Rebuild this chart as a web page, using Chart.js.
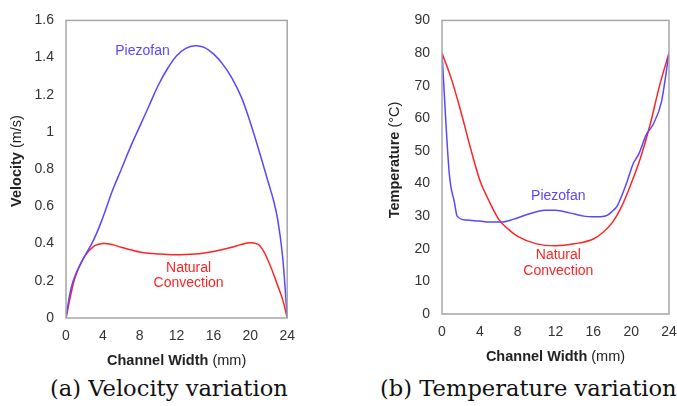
<!DOCTYPE html>
<html>
<head>
<meta charset="utf-8">
<script src="https://cdn.jsdelivr.net/npm/chart.js@4.4.1/dist/chart.umd.min.js"></script>
<style>
  html, body { margin: 0; padding: 0; background: #fff; overflow: hidden; }
  body { width: 677px; height: 406px; position: relative; }
  .box { position: absolute; top: 0; height: 370px; }
  .cap { position: absolute; top: 377px; line-height: 1; font-family: "DejaVu Serif", serif; font-size: 22.6px; color: #111; white-space: nowrap; }
</style>
</head>
<body>
<div class="box" style="left:0;width:305px"><canvas id="velChart"></canvas></div>
<div class="box" style="left:380px;width:320px"><canvas id="tempChart"></canvas></div>
<div class="cap" style="left:50px">(a) Velocity variation</div>
<div class="cap" style="left:380px">(b) Temperature variation</div>
<script>
// channel width ticks (mm)
let widthTicks = [0, 4, 8, 12, 16, 20, 24]

// (a) velocity, m/s
let velPiezoX = [0, 0.5, 1, 2, 3, 4, 5, 6, 7, 8, 9, 10, 11, 12, 13, 14, 15, 16, 17, 18, 19, 20, 21, 22, 22.5, 23, 23.5, 24]
let velPiezoY = [0, 0.15, 0.23, 0.33, 0.42, 0.54, 0.68, 0.8, 0.92, 1.03, 1.14, 1.25, 1.34, 1.41, 1.45, 1.464, 1.455, 1.42, 1.365, 1.29, 1.19, 1.05, 0.89, 0.72, 0.635, 0.52, 0.33, 0]
let velNatX = [0, 0.5, 1, 2, 3, 4, 5, 6, 7, 8, 9, 10, 11, 12, 13, 14, 15, 16, 17, 18, 19, 20, 21, 22, 23, 23.5, 24]
let velNatY = [0, 0.12, 0.22, 0.33, 0.385, 0.4, 0.395, 0.38, 0.367, 0.355, 0.348, 0.344, 0.341, 0.34, 0.341, 0.344, 0.35, 0.358, 0.368, 0.38, 0.395, 0.405, 0.39, 0.3, 0.17, 0.1, 0]

// (b) temperature, deg C
let tempPiezoX = [0, 0.77, 1.33, 1.6, 2.6, 4, 5, 6.3, 7.5, 9, 10.9, 12, 13.5, 15, 15.8, 17, 17.5, 18, 18.5, 19.5, 20.2, 20.8, 21.6, 22.3, 23.2, 24]
let tempPiezoY = [80, 43, 34, 30, 28.8, 28.5, 28.2, 28.2, 29, 30.5, 31.8, 31.8, 31, 30, 29.8, 29.9, 30.3, 31.5, 33, 40, 46, 49, 55, 58, 65, 80]
let tempNatX = [0, 1, 2, 3, 4, 5, 6, 7, 8, 10, 12, 14, 16, 17, 18, 19, 20, 21, 22, 23, 24]
let tempNatY = [80, 72, 62, 51, 41, 34.5, 29, 26, 23.8, 21.5, 20.9, 21.5, 23, 25, 28, 33, 40, 48, 58, 70, 80]

let velTicks = [0, 0.2, 0.4, 0.6, 0.8, 1, 1.2, 1.4, 1.6]
let tempTicks = [0, 10, 20, 30, 40, 50, 60, 70, 80, 90]

const blue = "#5a46ff"
const red = "#ff2424"
const tickFont = { family: "Liberation Sans", size: 14 }

function toPoints(xs, ys){
    return xs.map((x, i) => ({ x: x, y: ys[i] }))
}

// frame, axis titles (bold part + plain part) and curve labels
function decor(cfg){
    return {
        id: "decor",
        afterDraw(chart){
            const ctx = chart.ctx
            const a = chart.chartArea
            const xs = chart.scales.x, ys = chart.scales.y
            ctx.save()
            ctx.strokeStyle = "#a6a6a6"
            ctx.lineWidth = 1.5
            ctx.strokeRect(a.left, a.top, a.right - a.left, a.bottom - a.top)

            // x title
            ctx.fillStyle = "#222"
            ctx.textBaseline = "middle"
            let bold = "bold 14.5px Liberation Sans", plain = "14.5px Liberation Sans"
            ctx.font = bold
            let w1 = ctx.measureText("Channel Width ").width
            ctx.font = plain
            let w2 = ctx.measureText("(mm)").width
            let cx = (a.left + a.right) / 2 - (w1 + w2) / 2
            ctx.textAlign = "left"
            ctx.font = bold
            ctx.fillText("Channel Width ", cx, cfg.xTitleY)
            ctx.font = plain
            ctx.fillText("(mm)", cx + w1, cfg.xTitleY)

            // y title, rotated
            ctx.save()
            ctx.translate(cfg.yTitleX, cfg.yTitleY)
            ctx.rotate(-Math.PI / 2)
            ctx.font = bold
            w1 = ctx.measureText(cfg.yBold + " ").width
            ctx.font = plain
            w2 = ctx.measureText(cfg.yPlain).width
            ctx.font = bold
            ctx.fillText(cfg.yBold + " ", -(w1 + w2) / 2, 0)
            ctx.font = plain
            ctx.fillText(cfg.yPlain, -(w1 + w2) / 2 + w1, 0)
            ctx.restore()

            // curve labels
            ctx.font = "14px Liberation Sans"
            ctx.textAlign = "center"
            cfg.labels.forEach(l => {
                ctx.fillStyle = l.color
                ctx.fillText(l.text, xs.getPixelForValue(l.x), ys.getPixelForValue(l.y))
            })
            ctx.restore()
        }
    }
}

function lineStyle(color, smooth){
    if (smooth) return { borderColor: color, borderWidth: 1.5, pointRadius: 0, tension: 0.4 }
    return { borderColor: color, borderWidth: 1.5, pointRadius: 0, cubicInterpolationMode: "monotone" }
}

function makeChart(id, opts){
    return new Chart(id, {
        type: "line",
        data: {
            datasets: [
                Object.assign({ data: toPoints(opts.piezoX, opts.piezoY) }, lineStyle(blue, opts.smooth)),
                Object.assign({ data: toPoints(opts.natX, opts.natY) }, lineStyle(red, opts.smooth))
            ]
        },
        options: {
            responsive: false,
            animation: false,
            events: [],
            layout: { padding: opts.padding },
            plugins: { legend: { display: false }, tooltip: { enabled: false } },
            scales: {
                x: {
                    type: "linear", min: 0, max: 24,
                    afterBuildTicks: s => { s.ticks = widthTicks.map(v => ({ value: v })) },
                    afterFit: s => { s.height = opts.xHeight },
                    grid: { display: false, drawTicks: false },
                    border: { display: false },
                    ticks: { color: "#333", font: tickFont, padding: 10, maxRotation: 0 }
                },
                y: {
                    min: opts.yTicks[0], max: opts.yTicks[opts.yTicks.length - 1],
                    afterBuildTicks: s => { s.ticks = opts.yTicks.map(v => ({ value: v })) },
                    afterFit: s => { s.width = opts.yWidth },
                    grid: { display: false, drawTicks: false },
                    border: { display: false },
                    ticks: { color: "#333", font: tickFont, padding: 12, callback: v => String(v) }
                }
            }
        },
        plugins: [decor(opts.decor)]
    })
}

function sizeCanvas(id, w, h){
    const c = document.getElementById(id)
    c.width = w; c.height = h
    c.style.width = w + "px"; c.style.height = h + "px"
}

sizeCanvas("velChart", 305, 370)
sizeCanvas("tempChart", 320, 370)

makeChart("velChart", {
    piezoX: velPiezoX, piezoY: velPiezoY, natX: velNatX, natY: velNatY,
    yTicks: velTicks, smooth: true,
    padding: { top: 12, right: 9, left: 0, bottom: 0 },
    yWidth: 66, xHeight: 52,
    decor: {
        xTitleY: 361, yTitleX: 17, yTitleY: 161,
        yBold: "Velocity", yPlain: "(m/s)",
        labels: [
            { text: "Piezofan", x: 8.3, y: 1.435, color: blue },
            { text: "Natural", x: 13.3, y: 0.27, color: red },
            { text: "Convection", x: 13.3, y: 0.185, color: red }
        ]
    }
})

makeChart("tempChart", {
    piezoX: tempPiezoX, piezoY: tempPiezoY, natX: tempNatX, natY: tempNatY,
    yTicks: tempTicks, smooth: false,
    padding: { top: 12, right: 31, left: 0, bottom: 0 },
    yWidth: 62, xHeight: 56,
    decor: {
        xTitleY: 357, yTitleX: 15, yTitleY: 160,
        yBold: "Temperature", yPlain: "(\u00B0C)",
        labels: [
            { text: "Piezofan", x: 12.3, y: 36, color: blue },
            { text: "Natural", x: 12.3, y: 18.1, color: red },
            { text: "Convection", x: 12.3, y: 13.1, color: red }
        ]
    }
})
</script>
</body>
</html>
